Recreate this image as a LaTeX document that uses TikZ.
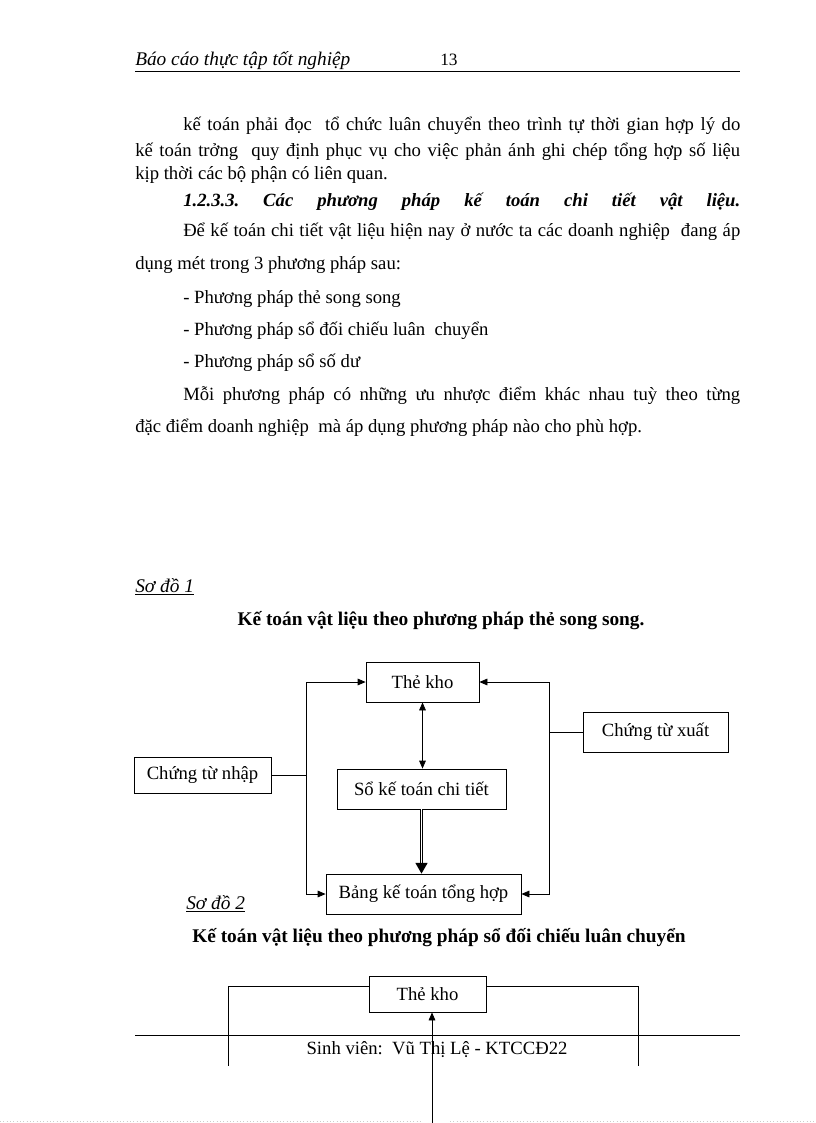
\documentclass[tikz,border=0pt]{standalone}
\usepackage{fontspec}
\setmainfont{Liberation Serif}
\usetikzlibrary{arrows.meta}
\frenchspacing
\begin{document}
\begin{tikzpicture}[x=0.75pt,y=-0.75pt,
  txt/.style={anchor=base west,inner sep=0,font=\fontsize{14}{16}\selectfont},
  hdr/.style={anchor=base west,inner sep=0,font=\fontsize{14.5}{16}\selectfont\itshape},
  ttl/.style={anchor=base west,inner sep=0,font=\fontsize{14.5}{16}\selectfont\bfseries},
  sodo/.style={anchor=base west,inner sep=0,font=\fontsize{14.5}{16}\selectfont\itshape},
  box/.style={draw,line width=0.6pt,inner sep=0,font=\fontsize{14}{16}\selectfont},
  ln/.style={line width=0.6pt},
  arr/.style={line width=0.6pt,-{Triangle[length=6pt,width=5pt]}},
  darr/.style={line width=0.6pt,{Triangle[length=6pt,width=5pt]}-{Triangle[length=6pt,width=5pt]}},
  bigarr/.style={double,double distance=0.8pt,line width=0.9pt,-{Triangle[length=8pt,width=9pt]}}]
\useasboundingbox (0,0) rectangle (816,1123);
\fill[white] (0,0) rectangle (816,1123);

% header
\node[hdr] (h1) at (135,66) {Báo cáo thực tập tốt nghiệp};
\node[anchor=base west,inner sep=0,font=\fontsize{13}{15}\selectfont] (h2) at (440,66) {13};
\coordinate (hr1) at (135,71); \coordinate (hr2) at (740,71);
\draw[ln] (hr1) -- (hr2);

% body text
\node[txt] (t1) at (183,131) {\makebox[417.75pt][s]{kế toán phải đọc\ \ tổ chức luân chuyển theo trình tự thời gian hợp lý do}};
\node[txt] (t2) at (135,157) {\makebox[453.75pt][s]{kế toán trởng\ \ quy định phục vụ cho việc phản ánh ghi chép tổng hợp số liệu}};
\node[txt] (t3) at (135,180) {kịp thời các bộ phận có liên quan.};
\node[txt,font=\fontsize{14}{16}\selectfont\bfseries\itshape] (t4) at (183,207) {\makebox[417.75pt][s]{1.2.3.3. Các phương pháp kế toán chi tiết vật liệu.}};
\node[txt] (t5) at (183,237) {\makebox[417.75pt][s]{Để kế toán chi tiết vật liệu hiện nay ở nước ta các doanh nghiệp\ \ đang áp}};
\node[txt] (t6) at (135,269) {dụng mét trong 3 phương pháp sau:};
\node[txt] (t7) at (183,303) {- Phương pháp thẻ song song};
\node[txt] (t8) at (183,335) {- Phương pháp sổ đối chiếu luân\ \ chuyển};
\node[txt] (t9) at (183,367) {- Phương pháp sổ số dư};
\node[txt] (t10) at (183,400) {\makebox[417.75pt][s]{Mỗi phương pháp có những ưu nhược điểm khác nhau tuỳ theo từng}};
\node[txt] (t11) at (135,432) {đặc điểm doanh nghiệp\ \ mà áp dụng phương pháp nào cho phù hợp.};

% Diagram 1
\node[sodo] (s1) at (135,592) {\underline{Sơ đồ 1}};
\node[ttl,anchor=base] (ti1) at (441,625) {Kế toán vật liệu theo phương pháp thẻ song song.};

\node[box,minimum width=84.75pt,minimum height=30pt] (kho) at (422.5,682) {Thẻ kho};
\node[box,minimum width=126.75pt,minimum height=30pt] (so) at (421.5,789) {Sổ kế toán chi tiết};
\node[box,minimum width=146.25pt,minimum height=30pt] (bang) at (423.5,894) {Bảng kế toán tổng hợp};
\node[box,minimum width=102.75pt,minimum height=27pt] (nhap) at (202.5,775) {Chứng từ nhập};
\node[box,minimum width=108.75pt,minimum height=30pt] (xuat) at (655.5,732) {Chứng từ xuất};

\coordinate (L) at (306,775);
\coordinate (R) at (549,732);
\draw[ln] (nhap.east) -- (L);
\draw[arr] (L) |- (kho.west);
\draw[arr] (L) |- (bang.west);
\draw[ln] (xuat.west) -- (R);
\draw[arr] (R) |- (kho.east);
\draw[arr] (R) |- (bang.east);
\draw[darr] (kho.south) -- (kho.south |- so.north);
\draw[bigarr] (so.south) -- (so.south |- bang.north);

% Diagram 2
\node[sodo] (s2) at (186,909) {\underline{Sơ đồ 2}};
\node[ttl,anchor=base] (ti2) at (439,942) {Kế toán vật liệu theo phương pháp sổ đối chiếu luân chuyển};
\node[box,minimum width=87.75pt,minimum height=27pt] (kho2) at (427.5,994) {Thẻ kho};
\coordinate (A1) at (228,986); \coordinate (A2) at (228,1066);
\coordinate (B1) at (638,986); \coordinate (B2) at (638,1066);
\coordinate (C) at (432,1123);
\draw[ln] (kho2.west |- A1) -- (A1) -- (A2);
\draw[ln] (kho2.east |- B1) -- (B1) -- (B2);
\draw[arr] (C) -- (C |- kho2.south);

% footer
\coordinate (fr1) at (135,1035); \coordinate (fr2) at (740,1035);
\draw[ln] (fr1) -- (fr2);
\node[txt,anchor=base] (ft) at (437,1054) {Sinh viên:\ \ Vũ Thị Lệ - KTCCĐ22};

% faint page edge
\coordinate (d1) at (0,1121); \coordinate (d2) at (422,1121);
\coordinate (d3) at (450,1121); \coordinate (d4) at (816,1121);
\draw[black!20,dotted,line width=0.5pt] (d1) -- (d2) (d3) -- (d4);
\end{tikzpicture}
\end{document}
